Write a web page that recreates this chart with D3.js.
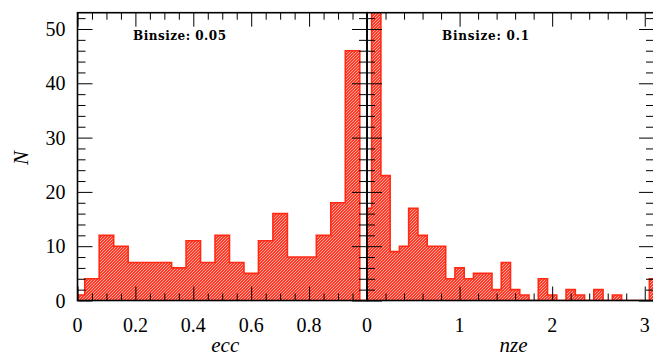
<!DOCTYPE html>
<html><head><meta charset="utf-8">
<script src="https://cdn.jsdelivr.net/npm/d3@7"></script>
<style>
html,body{margin:0;padding:0;background:#fff;}
svg{display:block;}
text{fill:#000;}
</style></head>
<body>
<svg id="chart" width="653" height="356"></svg>
<script>
// ---- data ----
const eccBinCenters = [0,0.05,0.1,0.15,0.2,0.25,0.3,0.35,0.4,0.45,0.5,0.55,0.6,0.65,0.7,0.75,0.8,0.85,0.9,0.95,1.0];
const eccCounts     = [1,4,12,10,7,7,7,6,11,7,12,7,5,11,16,8,8,12,18,46,0];
const eccBinSize = 0.05;

const nzeBinCenters = [0,0.1,0.2,0.3,0.4,0.5,0.6,0.7,0.8,0.9,1.0,1.1,1.2,1.3,1.4,1.5,1.6,1.7,1.8,1.9,2.0,2.1,2.2,2.3,2.4,2.5,2.6,2.7,2.8,2.9,3.0,3.1];
const nzeCounts     = [17,56,23,9,10,17,12,10,10,4,6,4,5,5,2,7,2,1,0,4,1,0,2,1,0,2,0,1,0,0,0,4];
const nzeBinSize = 0.1;

const yMajorTicks = [0,10,20,30,40,50];
const eccMajorTicks = [0,0.2,0.4,0.6,0.8];
const nzeMajorTicks = [0,1,2,3];
const eccLabel = "ecc", nzeLabel = "nze", yLabel = "N";
const eccNote = "Binsize: 0.05", nzeNote = "Binsize: 0.1";

// ---- layout ----
const yTop = 12.7, yBottom = 300.5;
const svg = d3.select("#chart");
const y = d3.scaleLinear().domain([0, 53]).range([yBottom, yTop]);
const xL = d3.scaleLinear().domain([0, 1]).range([77.5, 367]);
const xR = d3.scaleLinear().domain([0, 3.1]).range([367, 654]);

const defs = svg.append("defs");
const pat = defs.append("pattern").attr("id","hatch").attr("patternUnits","userSpaceOnUse")
  .attr("width",3).attr("height",3);
pat.append("rect").attr("width",3).attr("height",3).attr("fill","#ff3a28");
pat.append("path").attr("d","M-1,1 l2,-2 M0,3 l3,-3 M2,4 l2,-2")
  .attr("stroke","#ffb4a8").attr("stroke-width",0.9);

function panel(id, x, centers, counts, bs, majors, minorStep, note, noteX, noteW, xlabel, showYLabels) {
  const [d0, d1] = x.domain();
  const [r0, r1] = x.range();
  defs.append("clipPath").attr("id","clip"+id).append("rect")
    .attr("x", r0).attr("y", yTop).attr("width", r1 - r0).attr("height", yBottom - yTop);
  const g = svg.append("g");
  const pts = [[d0, 0]];
  centers.forEach((c, i) => {
    const a = Math.max(d0, c - bs/2), b = Math.min(d1 + bs, c + bs/2);
    pts.push([a, counts[i]]); pts.push([b, counts[i]]);
  });
  pts.push([pts[pts.length-1][0], 0]);
  const line = d3.line().x(d => x(d[0])).y(d => y(d[1]));
  const gc = g.append("g").attr("clip-path", "url(#clip"+id+")");
  gc.append("path").attr("d", line(pts) + "Z").attr("fill","url(#hatch)").attr("stroke","none");
  gc.append("path").attr("d", line(pts)).attr("fill","none").attr("stroke","#ff2a14").attr("stroke-width",1.6);

  const minors = d3.range(d0, d1 + 1e-9, minorStep).filter(v => !majors.some(m => Math.abs(m - v) < 1e-9));
  const yMinors = d3.range(0, 53, 2).filter(v => v % 10 !== 0);
  const axB = (vals, len) => d3.axisBottom(x).tickValues(vals).tickSize(-len).tickSizeOuter(0).tickFormat("");
  const axT = (vals, len) => d3.axisTop(x).tickValues(vals).tickSize(-len).tickSizeOuter(0).tickFormat("");
  const axL = (vals, len) => d3.axisLeft(y).tickValues(vals).tickSize(-len).tickSizeOuter(0).tickFormat("");
  const axRt = (vals, len) => d3.axisRight(y).tickValues(vals).tickSize(-len).tickSizeOuter(0).tickFormat("");
  [[axB(majors,14),`translate(0,${yBottom})`],[axB(minors,7),`translate(0,${yBottom})`],
   [axT(majors,14),`translate(0,${yTop})`],[axT(minors,7),`translate(0,${yTop})`],
   [axL(yMajorTicks,15),`translate(${r0},0)`],[axL(yMinors,8),`translate(${r0},0)`],
   [axRt(yMajorTicks,15),`translate(${r1},0)`],[axRt(yMinors,8),`translate(${r1},0)`]]
   .forEach(([ax, tr]) => {
     const a = g.append("g").attr("transform", tr).call(ax);
     a.select(".domain").remove();
     a.selectAll("line").attr("stroke","#000").attr("stroke-width",1);
   });
  g.append("rect").attr("x", r0).attr("y", yTop).attr("width", r1 - r0).attr("height", yBottom - yTop)
    .attr("fill","none").attr("stroke","#000").attr("stroke-width",1.6);
  const fmt = v => (v === 0 ? "0" : String(v));
  g.selectAll("text.xl").data(majors).join("text")
    .attr("x", d => x(d)).attr("y", 332).attr("text-anchor","middle")
    .attr("font-family","Liberation Serif, serif").attr("font-size",20).text(fmt);
  if (showYLabels) {
    g.selectAll("text.yl").data(yMajorTicks).join("text")
      .attr("x", r0 - 12).attr("y", d => y(d) + 7).attr("text-anchor","end")
      .attr("font-family","Liberation Serif, serif").attr("font-size",20).text(d => d);
  }
  g.append("text").attr("x", (r0 + r1)/2 + 3).attr("y", 352).attr("text-anchor","middle")
    .attr("font-family","Liberation Serif, serif").attr("font-style","italic").attr("font-size",21)
    .text(xlabel);
  g.append("text").attr("x", noteX).attr("y", 40)
    .attr("font-family","DejaVu Serif, serif").attr("font-size",12).attr("font-weight","bold")
    .attr("textLength", noteW).attr("lengthAdjust","spacing").text(note);
}

panel("L", xL, eccBinCenters, eccCounts, eccBinSize, eccMajorTicks, 0.05, eccNote, 133, 93, eccLabel, true);
panel("R", xR, nzeBinCenters, nzeCounts, nzeBinSize, nzeMajorTicks, 0.2, nzeNote, 442, 87, nzeLabel, false);

svg.append("text").attr("transform","translate(28,158) rotate(-90)").attr("text-anchor","middle")
  .attr("font-family","Liberation Serif, serif").attr("font-style","italic").attr("font-size",21)
  .text(yLabel);
</script>
</body></html>
